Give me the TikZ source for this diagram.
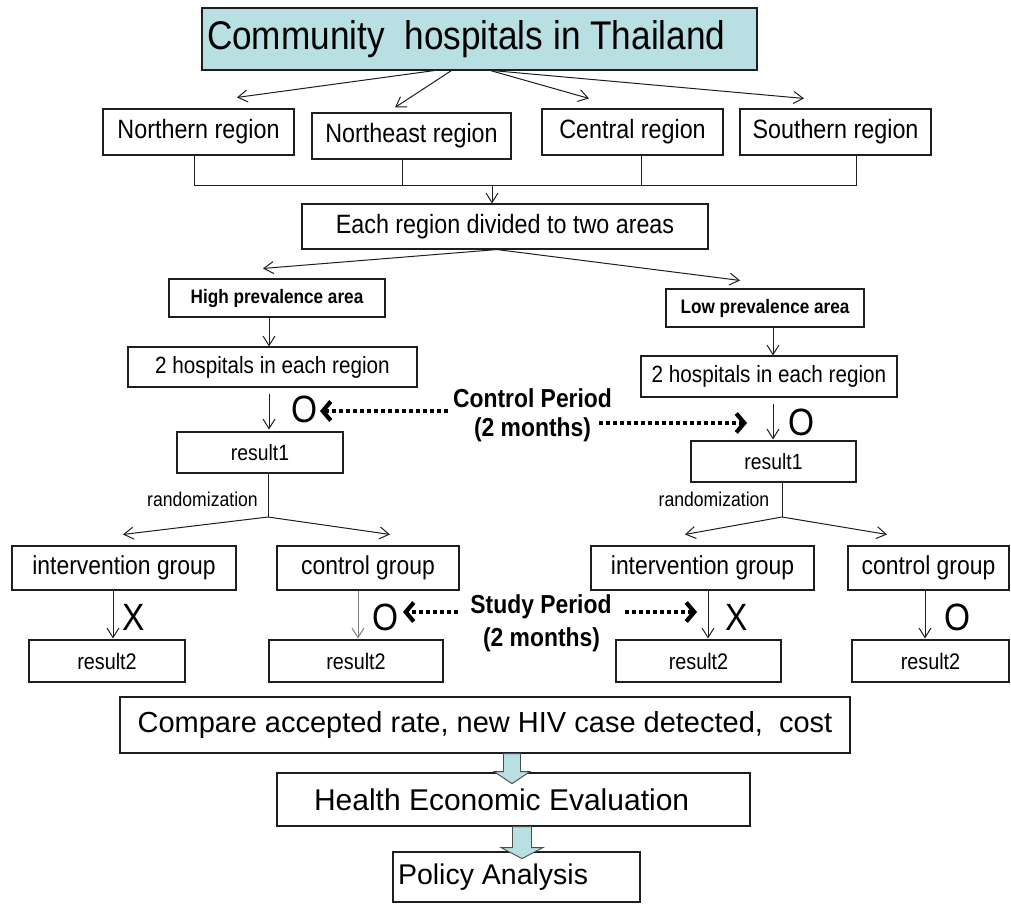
\documentclass[tikz,border=0pt]{standalone}
\usepackage{fontspec}
\setmainfont{Liberation Sans}
\newfontfamily\cf[FakeStretch=0.88]{Liberation Sans}
\usetikzlibrary{arrows.meta,calc}
\definecolor{cyanfill}{RGB}{184,223,226}
\definecolor{edge}{RGB}{30,30,30}
\newcommand\fz[1]{\fontsize{#1}{#1}\selectfont}
\begin{document}
\begin{tikzpicture}[x=1pt,y=-1pt,
 box/.style={draw=edge, line width=1.1pt, inner sep=0pt, font=\cf},
 nbox/.style={draw=edge, line width=1.1pt, inner sep=0pt, font=\rmfamily},
 conn/.style={draw=edge, line width=1pt},
 arr/.style={draw=edge, line width=1pt, -{Straight Barb[length=9.5pt,width=12pt]}},
 dotarr/.style={draw=black, line width=4pt, dash pattern=on 4.3pt off 2.7pt, -{Straight Barb[length=8pt,width=19pt,line width=4.2pt]}},
 lab/.style={inner sep=0pt, font=\cf},
 blk/.style={fill=cyanfill, draw=black!70, line width=0.9pt, line join=miter}
]
\useasboundingbox (0,0) rectangle (1011,903);

% boxes
\node[box, fill=cyanfill, minimum width=555pt, minimum height=62pt] (title) at (479.5,39) {\makebox[555pt][l]{\hspace{5pt}\fz{40}Community\ \ hospitals in Thailand}};
\node[box, minimum width=191pt, minimum height=46pt] (north) at (198.5,132) {\fz{26.5}Northern region};
\node[box, minimum width=199pt, minimum height=46pt] (neast) at (411.5,136) {\fz{26.5}Northeast region};
\node[box, minimum width=181pt, minimum height=46pt] (central) at (632.5,132) {\fz{26.5}Central region};
\node[box, minimum width=191pt, minimum height=46pt] (south) at (835.5,132) {\fz{26.5}Southern region};
\node[box, minimum width=406pt, minimum height=45pt] (each) at (505,226.5) {\fz{26.5}Each region divided to two areas};
\node[box, minimum width=216pt, minimum height=38pt] (high) at (277,298) {\fz{19.5}\bfseries High prevalence area};
\node[box, minimum width=198pt, minimum height=38pt] (low) at (765,308) {\fz{19.5}\bfseries Low prevalence area};
\node[box, minimum width=289pt, minimum height=40pt] (hospL) at (272.5,367) {\fz{23.5}2 hospitals in each region};
\node[box, minimum width=256pt, minimum height=41pt] (hospR) at (769,376.5) {\fz{23.5}2 hospitals in each region};
\node[box, minimum width=166pt, minimum height=41pt] (res1L) at (260,452.5) {\fz{22}result1};
\node[box, minimum width=165pt, minimum height=41pt] (res1R) at (773.5,461.5) {\fz{22}result1};
\node[box, minimum width=224pt, minimum height=44pt] (intL) at (124,568) {\fz{26}intervention group};
\node[box, minimum width=182pt, minimum height=44pt] (ctlL) at (368,568) {\fz{26}control group};
\node[box, minimum width=223pt, minimum height=44pt] (intR) at (702.5,568) {\fz{26}intervention group};
\node[box, minimum width=161pt, minimum height=44pt] (ctlR) at (928.5,568) {\fz{26}control group};
\node[box, minimum width=156pt, minimum height=42pt] (r2a) at (107,661) {\fz{22.5}result2};
\node[box, minimum width=174pt, minimum height=42pt] (r2b) at (356,661) {\fz{22.5}result2};
\node[box, minimum width=165pt, minimum height=42pt] (r2c) at (698.5,661) {\fz{22.5}result2};
\node[box, minimum width=157pt, minimum height=42pt] (r2d) at (930.5,661) {\fz{22.5}result2};
\node[nbox, minimum width=730pt, minimum height=56pt] (compare) at (485,725) {\fz{29}Compare accepted rate, new HIV case detected,\ \ cost};
\node[nbox, minimum width=473pt, minimum height=53pt] (health) at (513.5,799.5) {\makebox[473pt][l]{\hspace{37pt}\fz{30}Health Economic Evaluation}};
\node[nbox, minimum width=247pt, minimum height=50pt] (policy) at (516.5,877) {\makebox[247pt][l]{\hspace{5pt}\fz{28.5}Policy Analysis}};

% labels
\node[lab, font=\cf\fz{20}] (randL) at (202.5,499) {randomization};
\node[lab, font=\cf\fz{20}] (randR) at (714,499) {randomization};
\node[lab, font=\cf\bfseries\fz{26}] (ctrlA) at (532.5,398) {Control Period};
\node[lab, font=\cf\bfseries\fz{26}] (ctrlB) at (532.5,430) {(2 months)};
\node[lab, font=\cf\bfseries\fz{26}] (studyA) at (541,607) {Study Period};
\node[lab, font=\cf\bfseries\fz{26}] (studyB) at (541.5,640) {(2 months)};
\node[lab, font=\cf\fz{38}] (oL) at (305,409) {O};
\node[lab, font=\cf\fz{38}] (oR) at (801,422) {O};
\node[lab, font=\cf\fz{38}] (xL) at (134,617) {X};
\node[lab, font=\cf\fz{38}] (oCL) at (385,617) {O};
\node[lab, font=\cf\fz{38}] (xR) at (737,617) {X};
\node[lab, font=\cf\fz{38}] (oCR) at (957,617) {O};

% title to regions
\draw[arr] ([xshift=233pt]title.south west) -- ([xshift=38.5pt,yshift=11pt]north.north);
\draw[arr] ([xshift=250pt]title.south west) -- ([xshift=-16.5pt,yshift=5pt]neast.north);
\draw[arr] ([xshift=289pt]title.south west) -- ([xshift=-43.5pt,yshift=10pt]central.north);
\draw[arr] ([xshift=291pt]title.south west) -- ([xshift=-31.5pt,yshift=10pt]south.north);

% bus
\draw[conn] ([xshift=-4.5pt]north.south) -- ++(0,30) -| ([xshift=20.5pt]south.south);
\draw[conn] ([xshift=-9.5pt]neast.south) -- ++(0,26);
\draw[conn] ([xshift=8.5pt]central.south) -- ++(0,30);
\coordinate (bus) at (492,185);
\draw[arr] (bus) -- ([xshift=-13pt]each.north);

% areas
\draw[arr] ([xshift=-8pt]each.south) -- ([xshift=-14pt,yshift=10pt]high.north);
\draw[arr] ([xshift=-8pt]each.south) -- ([xshift=-25pt,yshift=8pt]low.north);
\draw[arr] ([xshift=-8pt]high.south) -- ([xshift=-3.5pt]hospL.north);
\draw[arr] ([xshift=8pt]low.south) -- ([xshift=4pt]hospR.north);
\draw[arr] ([xshift=-3.5pt,yshift=-6pt]hospL.south) -- ([xshift=9pt,yshift=2pt]res1L.north);
\draw[arr] ([xshift=4pt,yshift=-6pt]hospR.south) -- ([xshift=-0.5pt,yshift=1pt]res1R.north);

% randomization splits
\coordinate (splitL) at (268,517);
\coordinate (splitR) at (782,517);
\draw[conn] ([xshift=8pt]res1L.south) -- (splitL);
\draw[conn] ([xshift=8.5pt]res1R.south) -- (splitR);
\draw[arr] (splitL) -- ([xshift=-1pt,yshift=11pt]intL.north);
\draw[arr] (splitL) -- ([xshift=22pt,yshift=11pt]ctlL.north);
\draw[arr] (splitR) -- ([xshift=-17.5pt,yshift=11pt]intR.north);
\draw[arr] (splitR) -- ([xshift=-41.5pt,yshift=11pt]ctlR.north);

% group to result2
\draw[arr] ([xshift=-11pt]intL.south) -- ([xshift=6pt,yshift=1pt]r2a.north);
\draw[arr, draw=gray] ([xshift=-10pt]ctlL.south) -- ([xshift=2pt,yshift=1pt]r2b.north);
\draw[arr] ([xshift=5.5pt]intR.south) -- ([xshift=9.5pt,yshift=1pt]r2c.north);
\draw[arr] ([xshift=-3.5pt]ctlR.south) -- ([xshift=-5.5pt,yshift=1pt]r2d.north);

% dotted period arrows
\coordinate (tipCL) at (320,411);
\coordinate (tipCR) at (747,423);
\coordinate (tipSL) at (403,612);
\coordinate (tipSR) at (697,612);
\draw[dotarr] ([xshift=-5pt,yshift=-13pt]ctrlA.west) -- (tipCL);
\draw[dotarr] ([xshift=8pt,yshift=7pt]ctrlB.east) -- (tipCR);
\draw[dotarr] ([xshift=-12pt,yshift=-5pt]studyA.west) -- (tipSL);
\draw[dotarr] ([xshift=13pt,yshift=-5pt]studyA.east) -- (tipSR);

% block arrows
\filldraw[blk] ([xshift=18.5pt]compare.south) -- ++(0,18) -- ++(-9.5,0) -- ++(18,12) -- ++(18,-12) -- ++(-9.5,0) -- ++(0,-18) -- cycle;
\filldraw[blk] ([xshift=-1pt]health.south) -- ++(0,21) -- ++(-11.5,0) -- ++(21,11) -- ++(21,-11) -- ++(-11.5,0) -- ++(0,-21) -- cycle;
\end{tikzpicture}
\end{document}
